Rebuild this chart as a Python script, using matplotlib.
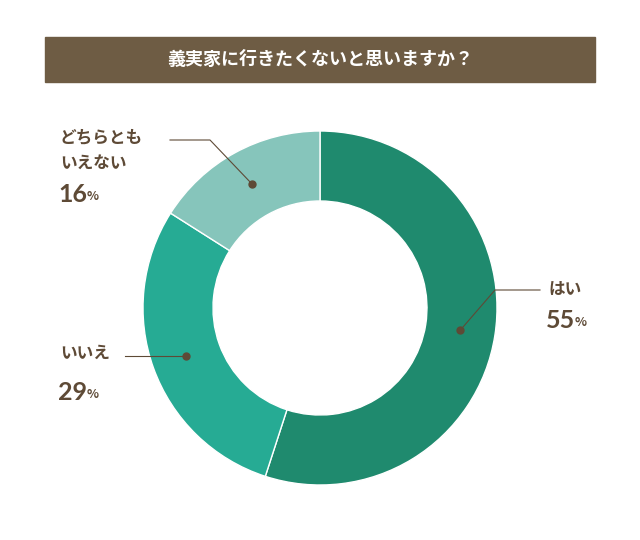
import matplotlib.pyplot as plt
import numpy as np
from matplotlib.patches import Rectangle

plt.rcParams['font.family'] = ['Noto Sans CJK JP', 'DejaVu Sans']

title = "義実家に行きたくないと思いますか？"
labels = ["はい", "いいえ", "どちらとも\nいえない"]
values = [55, 29, 16]
colors = ["#1f8a6e", "#26ab94", "#86c5bb"]
brown = "#5e4a36"

fig = plt.figure(figsize=(6.4, 5.4), dpi=100)
ax = fig.add_axes([0, 0, 1, 1])

cx, cy, r = 320, 540 - 308, 177
ax.pie(values, colors=colors, startangle=90, counterclock=False, center=(cx, cy),
       radius=r, wedgeprops=dict(width=70, edgecolor='white', linewidth=1), frame=True)
ax.set_xlim(0, 640)
ax.set_ylim(0, 540)
ax.set_aspect('equal')
ax.axis('off')

# title bar
ax.add_patch(Rectangle((45, 540 - 82), 550, 45, color="#6e5c44"))
ax.text(320, 540 - 59.5, title, color="white", fontsize=13, ha='center', va='center',
        fontweight='bold')

# dots at ring middle
cum = np.cumsum([0] + values)
mids = [90 - (cum[i] + values[i] / 2) * 3.6 for i in range(3)]
dots = [(cx + 142 * np.cos(np.radians(a)), cy + 142 * np.sin(np.radians(a))) for a in mids]

def pct(x, y, v):
    ax.text(x, y, f"{v}", color=brown, fontsize=18, ha='left', va='center',
            fontfamily='Lato', fontweight='bold')
    ax.text(x + 29, y - 2, "%", color=brown, fontsize=9, ha='left', va='center',
            fontweight='bold')

lbl = dict(color=brown, fontsize=12, va='center', fontweight='bold')

# はい
dx, dy = dots[0]
ax.plot([dx, 495, 540], [dy, 540 - 290, 540 - 290], color=brown, lw=0.8)
ax.plot(dx, dy, 'o', color=brown, ms=5)
ax.text(548, 540 - 290, labels[0], **lbl)
pct(546, 540 - 321, values[0])

# いいえ
dx, dy = dots[1]
ax.plot([dx, 125], [dy, dy], color=brown, lw=0.8)
ax.plot(dx, dy, 'o', color=brown, ms=5)
ax.text(60, dy + 3, labels[1], **lbl)
pct(58, 540 - 393, values[1])

# どちらとも
dx, dy = dots[2]
ax.plot([dx, 210, 170], [dy, 540 - 140, 540 - 140], color=brown, lw=0.8)
ax.plot(dx, dy, 'o', color=brown, ms=5)
ax.text(60, 540 - 150, labels[2], linespacing=1.5, **lbl)
pct(58, 540 - 195, values[2])

fig.savefig("out.png", dpi=100, facecolor='white')
